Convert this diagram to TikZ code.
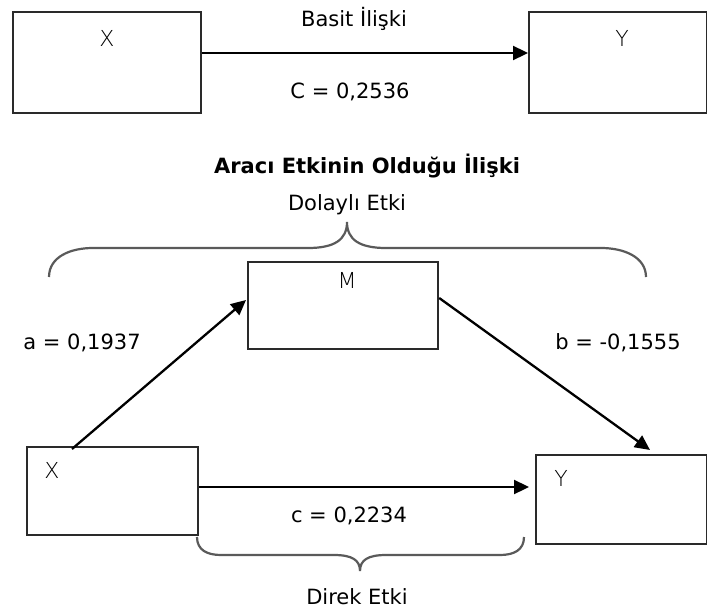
\documentclass[tikz,border=0pt]{standalone}
\usepackage{fontspec}
\setmainfont{DejaVu Sans}
\IfFontExistsTF{DejaVu Sans ExtraLight}
  {\newfontfamily\thinfont{DejaVu Sans ExtraLight}}
  {\newfontfamily\thinfont{DejaVu Sans}}
\usetikzlibrary{arrows.meta,calc}
\definecolor{boxgray}{HTML}{2A2A2A}
\definecolor{bracegray}{HTML}{5A5A5A}
\begin{document}
\begin{tikzpicture}[x=1pt,y=-1pt,
  box/.style={draw=boxgray,line width=2.2pt,inner sep=0pt,anchor=north west,
    rectangle,fill=white},
  var/.style={font=\thinfont\fontsize{22}{26}\selectfont,text=black,inner sep=0pt},
  txt/.style={font=\fontsize{21}{25}\selectfont,inner sep=0pt},
  ttl/.style={font=\bfseries\fontsize{21}{25}\selectfont,inner sep=0pt},
  link/.style={draw=black,line width=2.3pt,-{Triangle[length=15pt,width=14pt]}},
  brace/.style={draw=bracegray,line width=2.2pt}]

% canvas
\fill[white] (0,0) rectangle (707,613);
\useasboundingbox (0,0) rectangle (707,613);

% ---- simple relation ----
\node[box,minimum width=188pt,minimum height=101pt] (X1) at (12,11) {};
\node[box,minimum width=178pt,minimum height=101pt] (Y1) at (528,11) {};
\node[var] (X1l) at (107,38) {X};
\node[var] (Y1l) at (622,38) {Y};
\coordinate (c1s) at ($(X1.north east)+(0,42)$);
\coordinate (c1e) at ($(Y1.north west)+(0,42)$);
\draw[link] (c1s) -- (c1e);
\node[txt] (basit) at (354,19) {Basit İlişki};
\node[txt] (C1) at (350,92) {C = 0,2536};

% ---- mediated relation ----
\node[ttl] (title) at (367,166) {Aracı Etkinin Olduğu İlişki};
\node[txt] (dolayli) at (347,205) {Dolaylı Etki};

\draw[brace] (49,277) .. controls (49,257) and (70,248) .. (93,248)
  -- (308,248) .. controls (334,248) and (347,240) .. (347,222)
  .. controls (347,240) and (360,248) .. (386,248)
  -- (601,248) .. controls (624,248) and (646,257) .. (646,277);

\node[box,minimum width=190pt,minimum height=87pt] (M) at (247,261) {};
\node[var] (Ml) at (347,280) {M};

\node[box,minimum width=171pt,minimum height=88pt] (X2) at (26,446) {};
\node[box,minimum width=171pt,minimum height=89pt] (Y2) at (535,454) {};
\node[var] (X2l) at (52,470) {X};
\node[var] (Y2l) at (561,478) {Y};

\coordinate (as) at ($(X2.north west)+(46,3)$);
\coordinate (ae) at ($(M.north west)+(-1,39)$);
\draw[link] (as) -- (ae);

\coordinate (bs) at ($(M.north east)+(0,37)$);
\coordinate (be) at ($(Y2.north west)+(115,-4)$);
\draw[link] (bs) -- (be);

\coordinate (cs) at ($(X2.north east)+(0,41)$);
\coordinate (ce) at ($(Y2.north west)+(-6,33)$);
\draw[link] (cs) -- (ce);

\node[txt] (a) at (82,343) {a = 0,1937};
\node[txt] (b) at (618,343) {b = -0,1555};
\node[txt] (c) at (349,516) {c = 0,2234};

\draw[brace] (197,537) .. controls (197,550) and (207,555) .. (221,555)
  -- (334,555) .. controls (352,555) and (360,560) .. (360,571)
  .. controls (360,560) and (368,555) .. (386,555)
  -- (500,555) .. controls (514,555) and (524,550) .. (524,537);

\node[txt] (direk) at (357,597) {Direk Etki};
\end{tikzpicture}
\end{document}
